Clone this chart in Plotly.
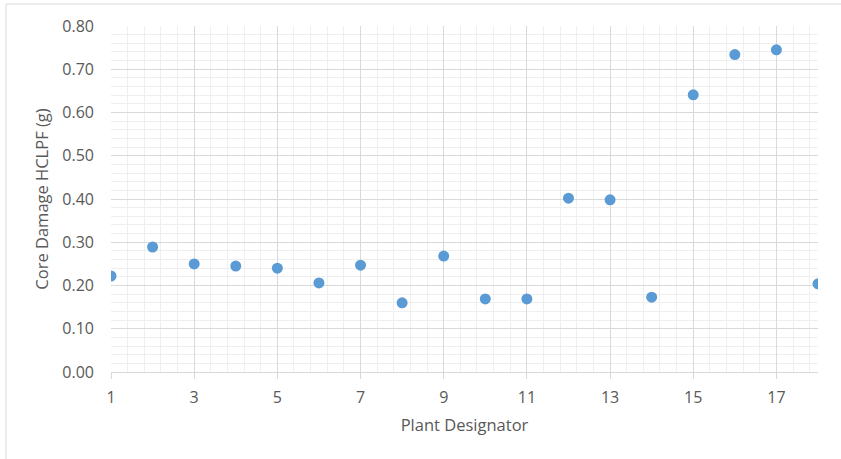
import plotly.graph_objects as go

plants = list(range(1, 19))
hclpf = [0.222, 0.289, 0.250, 0.245, 0.240, 0.206, 0.247, 0.160, 0.268,
         0.169, 0.169, 0.402, 0.398, 0.173, 0.641, 0.734, 0.745, 0.204]
x_ticks = [1, 3, 5, 7, 9, 11, 13, 15, 17]
y_ticks = [0.0, 0.1, 0.2, 0.3, 0.4, 0.5, 0.6, 0.7, 0.8]

font_family = "Open Sans, Liberation Sans, sans-serif"
tick_color = "#595959"

fig = go.Figure(go.Scatter(
    x=plants, y=hclpf, mode="markers",
    marker=dict(size=11, color="#5b9bd5"),
))

fig.update_layout(
    width=841, height=459,
    margin=dict(l=111, r=23, t=26, b=87),
    paper_bgcolor="white", plot_bgcolor="white",
    showlegend=False,
    font=dict(family=font_family, color=tick_color, size=16),
    shapes=[dict(type="rect", xref="paper", yref="paper",
                 x0=-0.1485, x1=1.5, y0=-0.5, y1=1.0636,
                 line=dict(color="#d9d9d9", width=1), layer="below")],
)

fig.update_xaxes(
    range=[1, 18], tickvals=x_ticks, ticktext=[str(v) for v in x_ticks],
    showgrid=True, gridcolor="#d9d9d9", gridwidth=1,
    minor=dict(tick0=1, dtick=0.4, showgrid=True, gridcolor="#efefef", gridwidth=1),
    showline=True, linecolor="#d9d9d9", linewidth=1,
    ticks="outside", ticklen=6, tickcolor="#d9d9d9",
    ticklabelstandoff=5,
    zeroline=False,
    tickfont=dict(size=16, color=tick_color),
    title=dict(text="Plant Designator", font=dict(size=16.5, color=tick_color), standoff=12),
)

fig.update_yaxes(
    range=[0, 0.8], tickvals=y_ticks, ticktext=[f"{v:.2f}" for v in y_ticks],
    showgrid=True, gridcolor="#d9d9d9", gridwidth=1,
    minor=dict(tick0=0, dtick=0.02, showgrid=True, gridcolor="#efefef", gridwidth=1),
    showline=False, zeroline=False,
    ticks="", ticklabelstandoff=16,
    tickfont=dict(size=16, color=tick_color),
    title=dict(text="Core Damage HCLPF (g)", font=dict(size=16.5, color=tick_color), standoff=9),
)

fig.write_html("out.html", config={"displayModeBar": False},
               post_script="document.body.style.margin='0px';")
